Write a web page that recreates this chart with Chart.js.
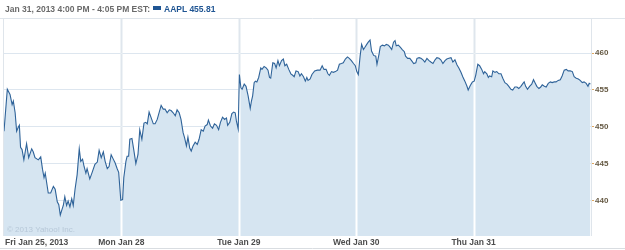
<!DOCTYPE html>
<html>
<head>
<meta charset="utf-8">
<script src="https://cdn.jsdelivr.net/npm/chart.js@4.4.1/dist/chart.umd.min.js"></script>
<style>
  html, body { margin: 0; padding: 0; background: #fff; }
  #wrap { position: relative; width: 625px; height: 250px; }
  #c { position: absolute; left: 0; top: 0; }
  #hdr { position: absolute; left: 5px; top: 4px; font: bold 8.5px "Liberation Sans", Arial, sans-serif; color: #6a6a6a; white-space: nowrap; line-height: 11px; }
  #hdr .sw { display: inline-block; width: 8px; height: 4px; background: #1f5593; vertical-align: 2px; margin: 0 3px 0 3px; }
  #hdr .sym { color: #1f5593; }
</style>
</head>
<body>
<div id="wrap">
  <canvas id="c" width="625" height="250"></canvas>
  <div id="hdr">Jan 31, 2013 4:00 PM - 4:05 PM EST:<span class="sw"></span><span class="sym">AAPL 455.81</span></div>
</div>
<script>
// ---- data (trading minutes since Fri Jan 25 open, 390 per session) ----
const dayLabels = ['Fri Jan 25, 2013', 'Mon Jan 28', 'Tue Jan 29', 'Wed Jan 30', 'Thu Jan 31'];
const dayStarts = [0, 390, 780, 1170, 1560];
const sessionEnd = 1950;
const yTicks = [440, 445, 450, 455, 460];

const minutes = [
  0, 11, 20, 27, 31, 37, 42, 47, 51, 55, 60, 66, 75, 82, 92, 97, 103, 114, 122, 128, 133, 137, 147, 155, 164, 170,
  177, 182, 187, 193, 197, 202, 208, 213, 219, 225, 230, 236, 243, 250, 255, 261, 266, 272, 276, 285, 292, 302, 310,
  316, 323, 330, 336, 343, 349, 356, 363, 369, 376, 381, 388,
  394, 398, 405, 409, 414, 418, 425, 431, 438, 445, 451, 458, 465, 471, 476, 482, 489, 496, 502, 509, 515, 522, 529,
  535, 542, 549, 555, 562, 569, 575, 582, 588, 595, 600, 606, 611, 617, 622, 628, 635, 642, 648, 655, 662, 668, 675,
  679, 686, 693, 699, 706, 713, 719, 726, 733, 739, 743, 750, 757, 763, 768, 772, 778,
  782, 787, 791, 798, 804, 811, 818, 822, 826, 831, 835, 840, 846, 853, 857, 864, 871, 877, 882, 886, 893, 899, 904,
  910, 915, 922, 928, 933, 939, 946, 953, 959, 964, 970, 977, 983, 988, 995, 1001, 1006, 1010, 1017, 1023, 1032, 1041,
  1050, 1057, 1063, 1070, 1076, 1081, 1088, 1094, 1101, 1108, 1114, 1121, 1127, 1134, 1141, 1147, 1154, 1161, 1167,
  1172, 1177, 1183, 1188, 1194, 1199, 1205, 1210, 1216, 1221, 1228, 1235, 1239, 1246, 1250, 1257, 1264, 1270, 1277,
  1283, 1288, 1294, 1299, 1303, 1310, 1317, 1323, 1330, 1334, 1341, 1348, 1354, 1361, 1368, 1372, 1379, 1385, 1392,
  1398, 1405, 1412, 1418, 1425, 1432, 1438, 1445, 1451, 1458, 1465, 1471, 1478, 1485, 1491, 1498, 1505, 1511, 1518,
  1524, 1531, 1538, 1542, 1549, 1556,
  1562, 1567, 1574, 1580, 1587, 1593, 1597, 1604, 1609, 1613, 1620, 1624, 1631, 1637, 1644, 1651, 1657, 1664, 1671,
  1677, 1684, 1690, 1697, 1704, 1710, 1717, 1724, 1728, 1733, 1739, 1746, 1753, 1759, 1764, 1770, 1777, 1783, 1788,
  1795, 1801, 1808, 1815, 1821, 1828, 1834, 1841, 1848, 1854, 1861, 1868, 1874, 1881, 1888, 1894, 1901, 1908, 1914,
  1921, 1927, 1934, 1940, 1944, 1948
];

const prices = [
  449.4, 455.1, 454.4, 453.0, 453.5, 451.9, 449.4, 449.9, 450.2, 447.2, 446.9, 445.5, 447.7, 445.8, 447.0, 446.6, 445.8,
  445.5, 445.9, 444.2, 443.1, 443.7, 441.0, 441.0, 441.9, 441.5, 439.8, 439.4, 438.0, 438.8, 439.3, 440.5, 439.3, 439.9,
  439.1, 440.2, 439.3, 441.5, 443.5, 447.0, 445.3, 445.6, 444.6, 443.7, 444.3, 442.9, 443.7, 444.9, 445.2, 446.8, 445.8,
  446.6, 445.3, 444.3, 444.6, 446.2, 445.6, 445.1, 444.3, 443.8, 440.0,
  440.1, 443.1, 445.3, 446.0, 446.0, 448.3, 448.4, 446.9, 445.0, 446.2, 449.6, 448.3, 450.5, 450.6, 450.4, 452.0, 451.2,
  450.4, 450.4, 451.0, 451.9, 452.9, 452.4, 452.4, 451.9, 452.3, 452.2, 451.9, 451.5, 452.3, 451.9, 451.0, 449.2, 448.5,
  447.4, 448.6, 447.1, 446.7, 447.4, 447.9, 447.6, 448.3, 449.6, 449.4, 450.1, 450.3, 450.9, 450.1, 449.8, 450.4, 450.2,
  449.6, 450.6, 451.3, 451.0, 451.2, 450.2, 450.6, 451.8, 452.0, 451.9, 450.8, 449.7,
  457.1, 455.3, 455.1, 455.8, 455.5, 454.2, 452.5, 453.5, 454.2, 456.0, 456.2, 456.1, 456.7, 458.0, 457.8, 458.2, 458.0,
  457.7, 456.7, 456.6, 458.7, 458.6, 458.0, 459.0, 458.3, 459.0, 459.2, 458.3, 458.5, 457.8, 457.2, 457.0, 456.8, 457.6,
  457.5, 456.9, 457.2, 456.8, 456.2, 456.7, 456.3, 456.5, 457.1, 457.6, 457.7, 457.7, 458.3, 457.8, 457.8, 457.2, 457.0,
  457.5, 457.4, 457.5, 457.7, 458.5, 458.6, 458.7, 459.2, 459.5, 459.3, 459.0, 458.6, 458.3,
  457.5, 457.1, 459.6, 461.2, 460.5, 460.8, 461.2, 461.5, 461.8, 460.3, 459.7, 459.6, 458.5, 459.9, 460.9, 461.1, 461.0,
  461.2, 461.1, 460.8, 460.5, 461.5, 461.7, 461.0, 461.1, 460.8, 460.5, 460.2, 459.6, 459.3, 459.3, 459.0, 458.6, 458.7,
  459.3, 459.4, 459.3, 459.1, 458.8, 459.3, 459.0, 458.8, 458.6, 459.1, 459.4, 459.3, 459.1, 458.6, 459.0, 459.2, 459.3,
  459.4, 458.8, 459.1, 458.4, 458.0, 457.4, 456.8, 456.2, 455.5, 455.0, 455.6, 456.1,
  456.2, 457.0, 458.5, 458.3, 457.8, 457.2, 457.5, 457.2, 456.7, 456.9, 456.8, 457.6, 457.4, 457.5, 457.2, 457.2, 456.6,
  456.0, 455.8, 455.5, 455.1, 455.0, 455.4, 455.4, 455.2, 455.5, 455.9, 456.1, 455.5, 455.1, 455.5, 455.8, 456.4, 456.0,
  455.5, 455.2, 455.4, 455.7, 455.5, 455.4, 455.9, 456.1, 456.0, 456.1, 456.1, 456.3, 456.4, 456.9, 457.7, 457.8, 457.6,
  457.6, 457.5, 456.8, 456.6, 456.5, 456.3, 456.0, 456.1, 455.9, 455.5, 455.9, 455.81
];

const LINE = '#2f6399';
const FILL = '#d6e5f1';
const points = minutes.map((m, i) => ({ x: m, y: prices[i] }));

const decor = {
  id: 'decor',
  afterDatasetDraw(chart, args) {
    if (args.index !== 1) return; // after the area fill, before the price line
    const { ctx, chartArea: a, scales: { x } } = chart;
    ctx.save();
    ctx.globalCompositeOperation = 'source-atop';
    ctx.strokeStyle = '#ffffff';
    ctx.lineWidth = 2;
    dayStarts.slice(1).forEach(d => {
      const px = Math.round(x.getPixelForValue(d)) + 0.5;
      ctx.beginPath(); ctx.moveTo(px, a.top); ctx.lineTo(px, a.bottom); ctx.stroke();
    });
    ctx.globalCompositeOperation = 'destination-over';
    ctx.strokeStyle = '#dfe6ed';
    dayStarts.slice(1).forEach(d => {
      const px = Math.round(x.getPixelForValue(d)) + 0.5;
      ctx.beginPath(); ctx.moveTo(px, a.top); ctx.lineTo(px, a.bottom); ctx.stroke();
    });
    ctx.restore();
  },
  afterDatasetsDraw(chart) {
    const { ctx, chartArea: a } = chart;
    ctx.save();
    ctx.strokeStyle = '#dfe5eb';
    ctx.lineWidth = 1;
    ctx.beginPath();
    ctx.moveTo(0, Math.round(a.top) - 0.5); ctx.lineTo(chart.width, Math.round(a.top) - 0.5);
    ctx.moveTo(Math.round(a.left) - 0.5, a.top); ctx.lineTo(Math.round(a.left) - 0.5, a.bottom);
    ctx.moveTo(Math.round(a.right) + 0.5, a.top); ctx.lineTo(Math.round(a.right) + 0.5, a.bottom);
    ctx.stroke();
    ctx.fillStyle = '#b7c8d8';
    ctx.font = '8px "Liberation Sans", Arial, sans-serif';
    ctx.textBaseline = 'alphabetic';
    ctx.fillText('\u00A9 2013 Yahoo! Inc.', a.left + 3, a.bottom - 4);
    ctx.restore();
  },
  afterDraw(chart) {
    const { ctx, chartArea: a, scales: { x } } = chart;
    ctx.save();
    ctx.font = 'bold 8.5px "Liberation Sans", Arial, sans-serif';
    ctx.fillStyle = '#4d4d4d';
    ctx.textBaseline = 'middle';
    dayLabels.forEach((lab, i) => {
      const px = x.getPixelForValue(dayStarts[i]);
      ctx.textAlign = i === 0 ? 'left' : 'center';
      ctx.fillText(lab, i === 0 ? px + 1 : px, a.bottom + 7);
    });
    ctx.strokeStyle = '#d9dde1';
    ctx.lineWidth = 1;
    ctx.beginPath(); ctx.moveTo(0, 248.5); ctx.lineTo(chart.width, 248.5); ctx.stroke();
    ctx.restore();
  }
};

new Chart(document.getElementById('c'), {
  type: 'line',
  data: {
    datasets: [
      { data: points, borderColor: LINE, borderWidth: 1.1, fill: false, pointRadius: 0, tension: 0 },
      { data: points, borderWidth: 0, borderColor: 'rgba(0,0,0,0)', backgroundColor: FILL, fill: 'start', pointRadius: 0, tension: 0 }
    ]
  },
  options: {
    responsive: false,
    animation: false,
    layout: { padding: { left: 4, top: 19, right: 0, bottom: 14 } },
    plugins: { legend: { display: false }, tooltip: { enabled: false } },
    scales: {
      x: { type: 'linear', min: 0, max: sessionEnd, display: false },
      y: {
        position: 'right',
        min: 435.15,
        max: 464.65,
        z: 1,
        afterBuildTicks: s => { s.ticks = yTicks.map(v => ({ value: v })); },
        afterFit: s => { s.width = 34; },
        border: { display: false },
        grid: { color: 'rgba(150,178,205,0.32)', lineWidth: 1, tickLength: 3, tickColor: '#e0a860' },
        ticks: { color: '#665a44', font: { family: '"Liberation Sans", Arial, sans-serif', size: 8, weight: 'bold' }, padding: 1 }
      }
    }
  },
  plugins: [decor]
});
</script>
</body>
</html>
